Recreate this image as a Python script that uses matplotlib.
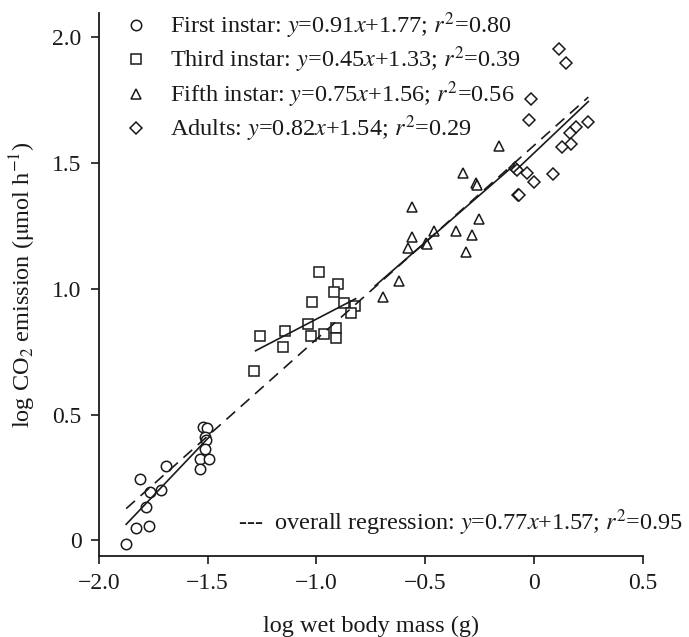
import matplotlib
matplotlib.use("Agg")
import matplotlib.pyplot as plt
import numpy as np
from matplotlib.lines import Line2D
from matplotlib import font_manager as fm

chosen = 'STIXGeneral'
for name in ['Liberation Serif', 'Times New Roman', 'Nimbus Roman', 'STIXGeneral']:
    try:
        fm.findfont(fm.FontProperties(family=name), fallback_to_default=False)
        chosen = name
        break
    except Exception:
        pass
plt.rcParams['font.family'] = [chosen, 'STIXGeneral', 'DejaVu Serif']
plt.rcParams['mathtext.fontset'] = 'stix'

# Data (log wet body mass, log CO2 emission)
first_x = [-1.876, -1.83, -1.771, -1.811, -1.765, -1.784, -1.716, -1.693,
           -1.523, -1.505, -1.511, -1.508, -1.514, -1.536, -1.496, -1.536]
first_y = [-0.016, 0.048, 0.057, 0.243, 0.191, 0.134, 0.199, 0.295,
           0.452, 0.445, 0.41, 0.40, 0.362, 0.322, 0.325, 0.285]

third_x = [-0.988, -0.902, -0.920, -1.019, -0.873, -0.821, -0.841, -1.037,
           -1.144, -1.258, -1.155, -1.026, -0.965, -0.911, -0.911, -1.287]
third_y = [1.066, 1.02, 0.986, 0.949, 0.942, 0.932, 0.905, 0.86,
           0.833, 0.812, 0.77, 0.814, 0.819, 0.845, 0.806, 0.673]

fifth_x = [-0.159, -0.324, -0.267, -0.262, -0.562, -0.255, -0.458, -0.359,
           -0.562, -0.283, -0.496, -0.492, -0.58, -0.313, -0.619, -0.692]
fifth_y = [1.568, 1.459, 1.42, 1.413, 1.324, 1.276, 1.231, 1.231,
           1.207, 1.213, 1.183, 1.177, 1.161, 1.145, 1.031, 0.969]

adult_x = [0.116, 0.148, -0.014, -0.021, 0.248, 0.193, 0.167, 0.171,
           0.131, -0.088, -0.079, -0.033, -0.002, 0.087, -0.074, -0.067]
adult_y = [1.953, 1.90, 1.755, 1.671, 1.665, 1.642, 1.621, 1.576,
           1.563, 1.479, 1.472, 1.459, 1.426, 1.455, 1.373, 1.373]

# Regression fits: slope, intercept, x-range
fit_first = (0.91, 1.77, (-1.875, -1.49))
fit_third = (0.45, 1.33, (-1.28, -0.82))
fit_fifth = (0.75, 1.56, (-0.73, -0.09))
fit_adult = (0.82, 1.54, (-0.09, 0.25))
fit_overall = (0.77, 1.57, (-1.875, 0.25))

labels = [
    r'First instar: $y$=0.91$x$+1.77; $r^2$=0.80',
    r'Third instar: $y$=0.45$x$+1.33; $r^2$=0.39',
    r'Fifth instar: $y$=0.75$x$+1.56; $r^2$=0.56',
    r'Adults: $y$=0.82$x$+1.54; $r^2$=0.29',
]
overall_label = r'---  overall regression: $y$=0.77$x$+1.57; $r^2$=0.95'

xticks = [-2.0, -1.5, -1.0, -0.5, 0, 0.5]
xticklabels = ['\u22122.0', '\u22121.5', '\u22121.0', '\u22120.5', '0', '0.5']
yticks = [0, 0.5, 1.0, 1.5, 2.0]
yticklabels = ['0', '0.5', '1.0', '1.5', '2.0']

FS = 17.5
W, H = 689, 637
fig = plt.figure(figsize=(W / 100, H / 100), dpi=100)
ax = fig.add_axes([99 / W, 1 - 555.7 / H, (642.7 - 99) / W, (555.7 - 13) / H])

col = '#1a1a1a'
mk = dict(linestyle='none', markerfacecolor='white', markeredgecolor=col,
          markeredgewidth=1.1, zorder=3)
ax.plot(first_x, first_y, marker='o', markersize=7.5, **mk)
ax.plot(third_x, third_y, marker='s', markersize=6.5, **mk)
ax.plot(fifth_x, fifth_y, marker='^', markersize=7.5, **mk)
ax.plot(adult_x, adult_y, marker='D', markersize=6.3, **mk)

for slope, icpt, (x0, x1) in [fit_first, fit_third, fit_fifth, fit_adult]:
    xs = np.array([x0, x1])
    ax.plot(xs, slope * xs + icpt, color=col, lw=1.2, zorder=4)
slope, icpt, (x0, x1) = fit_overall
xs = np.array([x0, x1])
ax.plot(xs, slope * xs + icpt, color=col, lw=1.2, dashes=(7, 4.5), zorder=4)

ax.set_xlim(-2.0, 0.5)
ax.set_ylim(-0.061, 2.097)
ax.set_xticks(xticks)
ax.set_xticklabels(xticklabels)
ax.set_yticks(yticks)
ax.set_yticklabels(yticklabels)
for s in ['top', 'right']:
    ax.spines[s].set_visible(False)
for s in ['left', 'bottom']:
    ax.spines[s].set_linewidth(1.3)
    ax.spines[s].set_color(col)
ax.tick_params(direction='out', length=5.5, width=1.2, labelsize=17, color=col,
               labelcolor=col, pad=7)

ax.set_xlabel('log wet body mass (g)', fontsize=FS, color=col, labelpad=16)
ax.set_ylabel(r'log CO$_2$ emission ($\mathrm{\mu}$mol h$^{-1}$)', fontsize=FS,
              color=col, labelpad=10)

handles = [
    Line2D([], [], marker='o', markersize=7.5, **mk),
    Line2D([], [], marker='s', markersize=6.5, **mk),
    Line2D([], [], marker='^', markersize=7.5, **mk),
    Line2D([], [], marker='D', markersize=6.3, **mk),
]
leg = ax.legend(handles, labels, loc='upper left', bbox_to_anchor=(0.028, 1.023),
                frameon=False, fontsize=FS, handlelength=1.0, handletextpad=0.9,
                labelspacing=0.16, borderaxespad=0)
for t in leg.get_texts():
    t.set_color(col)

ax.text(0.255, 0.06, overall_label, transform=ax.transAxes, fontsize=FS,
        color=col, ha='left', va='center', clip_on=False)

fig.savefig('out.png', dpi=100)
